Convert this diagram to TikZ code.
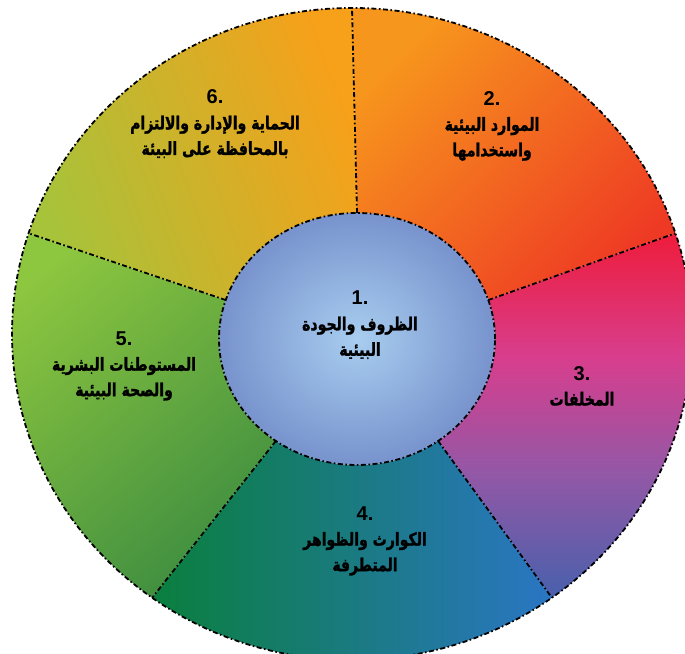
\documentclass[tikz,border=0pt]{standalone}
\usepackage{fontspec}
\newfontfamily\arabicfont[Script=Arabic, BoldFeatures={FakeBold=1.5, FakeStretch=0.78}]{DejaVu Sans}
\newfontfamily\numfont{Liberation Sans}
\TeXXeTstate=1
\usetikzlibrary{calc}

\definecolor{resorange}{HTML}{F7961D}
\definecolor{resred}{HTML}{EE3A24}
\definecolor{wastered}{HTML}{EE1C3B}
\definecolor{wastepink}{HTML}{D83E8D}
\definecolor{wastepurple}{HTML}{9258A6}
\definecolor{wasteblue}{HTML}{4860AC}
\definecolor{riskgreen}{HTML}{0A7F3D}
\definecolor{riskblue}{HTML}{2A76C4}
\definecolor{healthlight}{HTML}{8DC63F}
\definecolor{healthdark}{HTML}{3F8E40}
\definecolor{careyellow}{HTML}{A6C33A}
\definecolor{caregold}{HTML}{E6AA22}
\definecolor{careorange}{HTML}{F7A01A}
\definecolor{corelight}{HTML}{A8CDEF}
\definecolor{coredark}{HTML}{7893CD}

\pgfdeclareverticalshading{wasteshade}{100bp}{color(0bp)=(wasteblue); color(25bp)=(wasteblue); color(42bp)=(wastepurple); color(58bp)=(wastepink); color(75bp)=(wastered); color(100bp)=(wastered)}

\newcommand\ringsector[2]{([shift={(oc)}]#1:340 and 326) arc[start angle=#1,end angle=#2,x radius=340,y radius=326] -- ([shift={(ic)}]#2:138 and 126) arc[start angle=#2,end angle=#1,x radius=138,y radius=126] -- cycle}
\newcommand\itemno[1]{{\numfont\fontsize{20bp}{25.5bp}\selectfont #1.}}

\begin{document}
\begin{tikzpicture}[
  x=1bp,y=1bp,
  sep/.style={black, line width=1.8bp, dash pattern=on 5bp off 2.5bp on 1.6bp off 2.5bp},
  lbl/.style={font=\arabicfont\bfseries\fontsize{18bp}{25.5bp}\selectfont, align=center, inner sep=0pt, text=black}
]
\useasboundingbox (0,0) rectangle (685,654);
\fill[white] (0,0) rectangle (685,654);
\clip (0,0) rectangle (685,654);
\coordinate (oc) at (352,320);
\coordinate (ic) at (357,315);
\shade[top color=resorange, bottom color=resred, shading angle=45] \ringsector{18}{90};
\shade[shading=wasteshade] \ringsector{-54}{18};
\shade[left color=riskgreen, right color=riskblue] \ringsector{-126}{-54};
\shade[top color=healthlight, bottom color=healthdark, shading angle=40] \ringsector{162}{234};
\shade[top color=careyellow, middle color=caregold, bottom color=careorange, shading angle=110] \ringsector{90}{162};
\shade[inner color=corelight, outer color=coredark] (ic) ellipse[x radius=138, y radius=126];
\foreach \a in {18,90,162,234,306} {
  \coordinate (in\a) at ([shift={(ic)}]\a:138 and 126);
  \coordinate (out\a) at ([shift={(oc)}]\a:340 and 326);
  \draw[sep] (in\a) -- (out\a);
}
\draw[sep] (oc) ellipse[x radius=340, y radius=326];
\draw[sep] (ic) ellipse[x radius=138, y radius=126];
\node[lbl] (core) at (360,329) {\itemno{1}\\\beginR الظروف والجودة\endR\\\beginR البيئية\endR};
\node[lbl] (resources) at (492,528) {\itemno{2}\\\beginR الموارد البيئية\endR\\\beginR واستخدامها\endR};
\node[lbl] (waste) at (582,268) {\itemno{3}\\\beginR المخلفات\endR};
\node[lbl] (risks) at (365,113) {\itemno{4}\\\beginR الكوارث والظواهر\endR\\\beginR المتطرفة\endR};
\node[lbl] (health) at (124,288) {\itemno{5}\\\beginR المستوطنات البشرية\endR\\\beginR والصحة البيئية\endR};
\node[lbl] (care) at (215,530) {\itemno{6}\\\beginR الحماية والإدارة والالتزام\endR\\\beginR بالمحافظة على البيئة\endR};
\end{tikzpicture}
\end{document}
